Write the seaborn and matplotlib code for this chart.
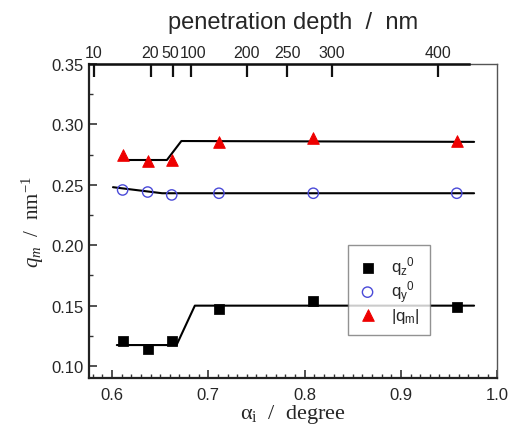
import matplotlib
matplotlib.use('Agg')
import matplotlib.pyplot as plt
import matplotlib.transforms as mtransforms
from matplotlib.ticker import MultipleLocator
import numpy as np
import pandas as pd
import seaborn as sns

# measured points
alpha = [0.611, 0.637, 0.662, 0.711, 0.809, 0.958]
qz0 = [0.1207, 0.1140, 0.1210, 0.1470, 0.1540, 0.1490]
qy0 = [0.2457, 0.2440, 0.2416, 0.2430, 0.2430, 0.2430]
qm = [0.2747, 0.2697, 0.2705, 0.2854, 0.2887, 0.2860]

# guide lines
qz_fit_x = [0.605, 0.667, 0.686, 0.976]
qz_fit_y = [0.1174, 0.1174, 0.1500, 0.1500]
qy_fit_x = [0.601, 0.652, 0.976]
qy_fit_y = [0.2480, 0.2430, 0.2430]
qm_fit_x = [0.614, 0.657, 0.672, 0.976]
qm_fit_y = [0.2705, 0.2705, 0.2862, 0.2855]

# top axis: penetration depth labels at alpha positions
depth_pos = [0.581, 0.640, 0.663, 0.682, 0.740, 0.782, 0.828, 0.938]
depth_labels = ['10', '20', '50', '100', '200', '250', '300', '400']

sns.set_style('ticks')
plt.rcParams['font.family'] = ['Liberation Sans', 'DejaVu Sans']
plt.rcParams['mathtext.fontset'] = 'custom'
plt.rcParams['mathtext.it'] = 'Liberation Serif:italic'
plt.rcParams['mathtext.rm'] = 'Liberation Serif'
plt.rcParams['mathtext.default'] = 'regular'

fig = plt.figure(figsize=(5.11, 4.27), dpi=100)
ax = fig.add_axes([0.174, 0.112, 0.799, 0.736])

df = pd.DataFrame({'alpha': alpha, 'qz0': qz0, 'qy0': qy0, 'qm': qm})

for fx, fy in [(qz_fit_x, qz_fit_y), (qy_fit_x, qy_fit_y), (qm_fit_x, qm_fit_y)]:
    sns.lineplot(x=fx, y=fy, ax=ax, color='black', lw=1.5, sort=False,
                 estimator=None, legend=False)

sns.scatterplot(data=df, x='alpha', y='qz0', ax=ax, marker='s', s=45,
                color='black', edgecolor='black', label=r'q$_z$$^0$', zorder=5)
sns.scatterplot(data=df, x='alpha', y='qy0', ax=ax, marker='o', s=55,
                facecolor='none', edgecolor='#4a4ad8', linewidth=1.0,
                label=r'q$_y$$^0$', zorder=5)
sns.scatterplot(data=df, x='alpha', y='qm', ax=ax, marker='^', s=70,
                color='#ee0000', edgecolor='#ee0000', label=r'|q$_m$|', zorder=5)

ax.set_xlim(0.576, 1.0)
ax.set_ylim(0.09, 0.35)
ax.xaxis.set_minor_locator(MultipleLocator(0.01))
ax.yaxis.set_minor_locator(MultipleLocator(0.025))
ax.set_xticks([0.6, 0.7, 0.8, 0.9, 1.0])
ax.set_xticklabels(['0.6', '0.7', '0.8', '0.9', '1.0'])
ax.set_yticks([0.10, 0.15, 0.20, 0.25, 0.30, 0.35])
ax.set_yticklabels(['0.10', '0.15', '0.20', '0.25', '0.30', '0.35'])
ax.tick_params(which='major', direction='in', length=6, width=1.2,
               labelsize=12, color='#333333')
ax.tick_params(which='minor', direction='in', length=3, width=1.0,
               color='#333333')
ax.tick_params(axis='x', pad=6)

for side in ['left', 'bottom']:
    ax.spines[side].set_linewidth(1.6)
    ax.spines[side].set_color('#222222')
for side in ['top', 'right']:
    ax.spines[side].set_visible(True)
    ax.spines[side].set_linewidth(1.0)
    ax.spines[side].set_color('#555555')

ax.set_xlabel('α$_i$  /  degree', family='Liberation Serif', fontsize=16,
              labelpad=0)
ax.set_ylabel(r'$\mathit{q}_{\mathit{m}}$  /  nm$^{-1}$', family='Liberation Serif',
              fontsize=15, labelpad=4)

# top axis
top = ax.twiny()
top.set_xlim(ax.get_xlim())
top.set_xticks(depth_pos)
top.set_xticklabels(depth_labels, fontsize=11.5)
top.tick_params(direction='in', length=9, width=1.6, pad=3, color='#111111')
# nudge the crowded 50 / 100 labels apart a little
labels = top.get_xticklabels()
for lab, dx in [(labels[2], -2), (labels[3], 2)]:
    lab.set_transform(lab.get_transform() +
                      mtransforms.ScaledTranslation(dx / 100, 0, fig.dpi_scale_trans))
for side in ['left', 'right', 'bottom']:
    top.spines[side].set_visible(False)
top.spines['top'].set_linewidth(1.8)
top.spines['top'].set_color('#111111')
top.spines['top'].set_bounds(0.576, 0.971)
top.set_xlabel('penetration depth  /  nm', fontsize=17, labelpad=12)

leg = ax.legend(loc='lower left', bbox_to_anchor=(0.613, 0.112), fontsize=12,
                frameon=True, fancybox=False, edgecolor='#777777',
                handletextpad=0.8, borderpad=0.6, labelspacing=0.05,
                handlelength=1.2)
leg.get_frame().set_linewidth(1.0)

plt.savefig('out.png', dpi=100)
